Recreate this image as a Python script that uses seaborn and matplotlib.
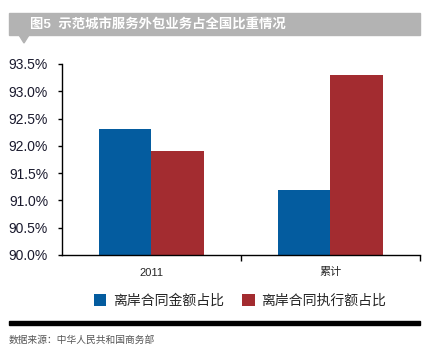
import matplotlib
matplotlib.use('Agg')
import matplotlib.pyplot as plt
import seaborn as sns
import pandas as pd
from matplotlib.patches import Rectangle, Polygon
from matplotlib.ticker import FuncFormatter, FixedLocator

# data
categories = ['2011', '累计']
series_names = ['离岸合同金额占比', '离岸合同执行额占比']
amount_share = [92.3, 91.2]
exec_share = [91.9, 93.3]
colors = ['#045C9F', '#A32C30']

df = pd.DataFrame({
    'cat': categories * 2,
    'series': [series_names[0]] * 2 + [series_names[1]] * 2,
    'value': amount_share + exec_share,
})

sns.set_style('white')
plt.rcParams['font.family'] = ['Liberation Sans', 'Noto Sans CJK SC', 'DejaVu Sans']

fig = plt.figure(figsize=(4.31, 3.62), dpi=100)
ax = fig.add_axes([62 / 431, 1 - 255 / 362, (420 - 62) / 431, (255 - 64) / 362])

sns.barplot(data=df, x='cat', y='value', hue='series', palette=colors,
            width=0.59, saturation=1, linewidth=0, ax=ax, legend=True)

ax.set_ylim(90, 93.5)
ax.set_xlim(-0.5, 1.5)
ax.set_yticks([90 + 0.5 * i for i in range(8)])
ax.yaxis.set_major_formatter(FuncFormatter(lambda v, p: f'{v:.1f}%'))
ax.tick_params(axis='y', left=True, length=3, width=1, color='black',
               labelsize=10, pad=7, labelcolor='#1a1a2e')
ax.tick_params(axis='x', which='major', length=0, labelsize=8, pad=9)
ax.xaxis.set_minor_locator(FixedLocator([0.5, 1.5]))
ax.tick_params(axis='x', which='minor', bottom=True, length=4, width=1, color='black')
ax.set_xlabel('')
ax.set_ylabel('')
for s in ['top', 'right']:
    ax.spines[s].set_visible(False)
for s in ['left', 'bottom']:
    ax.spines[s].set_color('black')
    ax.spines[s].set_linewidth(1)

leg = ax.legend(loc='center', bbox_to_anchor=(240 / 431, 1 - 301 / 362),
                bbox_transform=fig.transFigure, ncol=2, frameon=False,
                fontsize=10, handlelength=0.9, handleheight=1.0,
                handletextpad=0.5, columnspacing=1.3)

# title banner
fig.patches.append(Rectangle((9 / 431, 1 - 35 / 362), 411 / 431, 22 / 362,
                             transform=fig.transFigure, color='#B3B3B3', zorder=0))
fig.patches.append(Polygon([(19 / 431, 1 - 35 / 362), (29 / 431, 1 - 35 / 362),
                            (24 / 431, 1 - 43 / 362)],
                           closed=True, transform=fig.transFigure, color='#B3B3B3'))
fig.text(30 / 431, 1 - 24.5 / 362, '图5  示范城市服务外包业务占全国比重情况',
         color='white', fontsize=9.6, fontweight='bold', va='center', ha='left')

# bottom rule and source
fig.patches.append(Rectangle((9 / 431, 1 - 325 / 362), 411 / 431, 4 / 362,
                             transform=fig.transFigure, color='black'))
fig.text(9 / 431, 1 - 340 / 362, '数据来源：中华人民共和国商务部',
         color='#555555', fontsize=7, va='center', ha='left')

fig.savefig('out.png', dpi=100)
